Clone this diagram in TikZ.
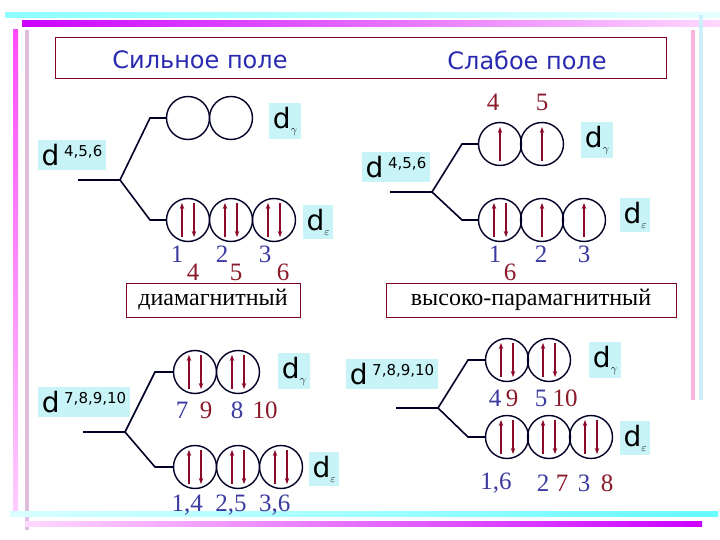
\documentclass[tikz,border=0pt]{standalone}
\usepackage{fontspec}
\setmainfont{Liberation Serif}
\newfontfamily\sansf{DejaVu Sans}
\usetikzlibrary{arrows.meta}
\definecolor{arr}{HTML}{8B0A2A}
\definecolor{numb}{HTML}{3A3AA0}
\definecolor{numr}{HTML}{8B1A2A}
\definecolor{lbl}{HTML}{C8F4F8}
\definecolor{ttl}{HTML}{2A2AB0}
\definecolor{boxc}{HTML}{800020}
\tikzset{
 orb/.style={circle,draw=black!85!blue,line width=1.4pt,minimum size=43pt,inner sep=0},
 br/.style={line width=1.6pt,draw=black!85!blue},
 sp/.style={arr,line width=1.4pt,-{Stealth[length=6pt,width=4.5pt]}},
 lab/.style={fill=lbl,font=\sansf\fontsize{28}{28}\selectfont,inner sep=4pt},
 dl/.style={fill=lbl,font=\sansf\fontsize{28}{28}\selectfont,inner sep=4pt},
 nb/.style={text=numb,font=\fontsize{25}{25}\selectfont,inner sep=0},
 nr/.style={text=numr,font=\fontsize{25}{25}\selectfont,inner sep=0},
 fb/.style={draw=boxc,line width=0.8pt,font=\fontsize{24}{24}\selectfont,inner sep=0,text=black}
}
\newcommand{\sups}[1]{\raisebox{9pt}{\fontsize{15}{15}\selectfont #1}}
\newcommand{\subs}[1]{\raisebox{-5pt}{\fontsize{11}{11}\selectfont$#1$}}
\newcommand{\spUD}[1]{\draw[sp] ([xshift=-6pt,yshift=-17pt]#1.center)--([xshift=-6pt,yshift=17pt]#1.center);
 \draw[sp] ([xshift=6pt,yshift=17pt]#1.center)--([xshift=6pt,yshift=-17pt]#1.center);}
\newcommand{\spU}[1]{\draw[sp] ([yshift=-17pt]#1.center)--([yshift=17pt]#1.center);}
\begin{document}
\begin{tikzpicture}[x=1pt,y=-1pt]
\useasboundingbox (0,0) rectangle (720,540);
\fill[white] (0,0) rectangle (720,540);
% decorative bars
\shade[left color=cyan!45,right color=cyan!10] (5,13) rectangle (720,18);
\shade[left color=magenta!80!blue,right color=magenta!15] (22,21) rectangle (720,27);
\shade[top color=magenta!70,bottom color=magenta!20] (13,30) rectangle (18,510);
\fill[violet!25] (25,30) rectangle (29,530);
\fill[magenta!30] (691,30) rectangle (695,400);
\fill[cyan!20] (699,15) rectangle (703,400);
\shade[left color=cyan!15,right color=cyan!60] (10,511) rectangle (718,516);
\shade[left color=magenta!15,right color=magenta!80!blue] (25,521) rectangle (702,526);
% title
\draw[boxc,line width=0.8pt] (55,37) rectangle (666,78);
\node[text=ttl,font=\sansf\fontsize{24}{24}\selectfont] (t1) at (200,60) {Сильное поле};
\node[text=ttl,font=\sansf\fontsize{24}{24}\selectfont] (t2) at (527,60) {Слабое поле};
% ===== top-left
\node[lab] (d1) at (72,155) {d\,\sups{4,5,6}};
\coordinate (a1) at (78,180); \coordinate (b1) at (120,180);
\coordinate (u1) at (150,118); \coordinate (w1) at (150,220);
\node[orb] (A1) at (188,118) {}; \node[orb] (A2) at (231,118) {};
\node[orb] (B1) at (188,220) {}; \node[orb] (B2) at (231,220) {}; \node[orb] (B3) at (274,220) {};
\draw[br] (a1)--(b1)--(u1)--(A1.west); \draw[br] (b1)--(w1)--(B1.west);
\spUD{B1}\spUD{B2}\spUD{B3}
\node[dl] (g1) at (285,121) {d\subs{\gamma}};
\node[dl] (e1) at (318,222) {d\subs{\varepsilon}};
\node[nb] at (177,254) {1}; \node[nr] at (193,272) {4};
\node[nb] at (222,254) {2}; \node[nr] at (236,272) {5};
\node[nb] at (265,254) {3}; \node[nr] at (283,272) {6};
\node[fb,minimum width=174pt,minimum height=34pt] (m1) at (213,300) {диамагнитный};
% ===== top-right
\node[lab] (d2) at (396,167) {d\,\sups{4,5,6}};
\coordinate (a2) at (390,192); \coordinate (b2) at (432,192);
\coordinate (u2) at (462,144); \coordinate (w2) at (462,220);
\node[orb] (C1) at (500,144) {}; \node[orb] (C2) at (542,144) {};
\node[orb] (D1) at (500,220) {}; \node[orb] (D2) at (542,220) {}; \node[orb] (D3) at (584,220) {};
\draw[br] (a2)--(b2)--(u2)--(C1.west); \draw[br] (b2)--(w2)--(D1.west);
\spU{C1}\spU{C2}\spUD{D1}\spU{D2}\spU{D3}
\node[nr] at (493,102) {4}; \node[nr] at (542,102) {5};
\node[dl] (g2) at (597,140) {d\subs{\gamma}};
\node[dl] (e2) at (635,215) {d\subs{\varepsilon}};
\node[nb] at (495,254) {1}; \node[nr] at (510,272) {6};
\node[nb] at (541,254) {2}; \node[nb] at (584,254) {3};
\node[fb,minimum width=290pt,minimum height=34pt] (m2) at (531,300) {высоко-парамагнитный};
% ===== bottom-left
\node[lab] (d3) at (84,402) {d\,\sups{7,8,9,10}};
\coordinate (a3) at (83,432); \coordinate (b3) at (125,432);
\coordinate (u3) at (155,372); \coordinate (w3) at (155,467);
\node[orb] (E1) at (195,372) {}; \node[orb] (E2) at (238,372) {};
\node[orb] (F1) at (195,467) {}; \node[orb] (F2) at (238,467) {}; \node[orb] (F3) at (281,467) {};
\draw[br] (a3)--(b3)--(u3)--(E1.west); \draw[br] (b3)--(w3)--(F1.west);
\spUD{E1}\spUD{E2}\spUD{F1}\spUD{F2}\spUD{F3}
\node[dl] (g3) at (294,371) {d\subs{\gamma}};
\node[dl] (e3) at (324,469) {d\subs{\varepsilon}};
\node[nb] at (182,410) {7}; \node[nr] at (206,410) {9};
\node[nb] at (237,410) {8}; \node[nr] at (265,410) {10};
\node[nb] at (231,505) {1,4\enspace 2,5\enspace 3,6};
% ===== bottom-right
\node[lab] (d4) at (392,374) {d\,\sups{7,8,9,10}};
\coordinate (a4) at (396,408); \coordinate (b4) at (438,408);
\coordinate (u4) at (468,360); \coordinate (w4) at (468,437);
\node[orb] (G1) at (507,360) {}; \node[orb] (G2) at (549,360) {};
\node[orb] (H1) at (507,437) {}; \node[orb] (H2) at (549,437) {}; \node[orb] (H3) at (591,437) {};
\draw[br] (a4)--(b4)--(u4)--(G1.west); \draw[br] (b4)--(w4)--(H1.west);
\spUD{G1}\spUD{G2}\spUD{H1}\spUD{H2}\spUD{H3}
\node[dl] (g4) at (605,360) {d\subs{\gamma}};
\node[dl] (e4) at (635,438) {d\subs{\varepsilon}};
\node[nb] at (495,398) {4}; \node[nr] at (512,398) {9};
\node[nb] at (541,398) {5}; \node[nr] at (565,398) {10};
\node[nb] at (496,483) {1,6};
\node[nb] at (543,483) {2}; \node[nr] at (562,483) {7};
\node[nb] at (584,483) {3}; \node[nr] at (607,483) {8};
\end{tikzpicture}
\end{document}
